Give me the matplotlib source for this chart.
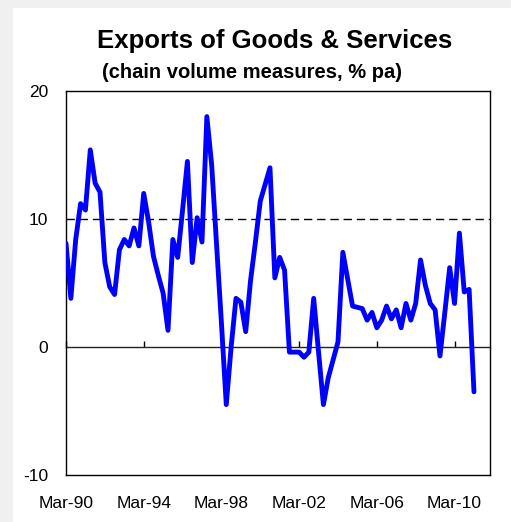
import matplotlib.pyplot as plt
from matplotlib.patches import Rectangle

plt.rcParams['font.family'] = ['Liberation Sans', 'DejaVu Sans']

# quarterly export growth, Mar-90 .. Mar-11 (% pa)
growth = [8.1, 3.8, 8.4, 11.2, 10.7, 15.4, 12.8, 12.1, 6.6, 4.7,
          4.1, 7.6, 8.4, 7.9, 9.3, 7.9, 12.0, 9.8, 7.1, 5.6,
          4.2, 1.3, 8.4, 7.0, 10.7, 14.5, 6.6, 10.1, 8.2, 18.0,
          14.2, 8.0, 1.9, -4.5, 0.0, 3.8, 3.5, 1.2, 5.2, 8.2,
          11.4, 12.7, 14.0, 5.4, 7.0, 6.0, -0.4, -0.4, -0.4, -0.8,
          -0.4, 3.8, -0.4, -4.5, -2.4, -1.0, 0.4, 7.4, 5.3, 3.2,
          3.1, 3.0, 2.1, 2.7, 1.5, 2.1, 3.2, 2.2, 2.9, 1.5,
          3.4, 2.1, 3.4, 6.8, 4.8, 3.4, 2.9, -0.7, 2.7, 6.2,
          3.4, 8.9, 4.3, 4.5, -3.5]
quarters = list(range(len(growth)))

tick_pos = [0, 16, 32, 48, 64, 80]
tick_labels = ['Mar-90', 'Mar-94', 'Mar-98', 'Mar-02', 'Mar-06', 'Mar-10']
y_ticks = [-10, 0, 10, 20]

fig = plt.figure(figsize=(5.11, 5.22), dpi=100)
fig.patch.set_facecolor('#f0f0f0')
# white chart panel
fig.patches.append(Rectangle((13 / 511, 0), 1, 1 - 8 / 522, transform=fig.transFigure,
                             facecolor='white', edgecolor='none', zorder=-5))

ax = fig.add_axes([66 / 511, 1 - 475 / 522, 424 / 511, 384 / 522])
ax.set_zorder(2)
ymin, ymax = -10, 20
ax.set_ylim(ymin, ymax)
ax.set_xlim(0, 87.3)

ax.axhline(10, color='black', lw=1, dashes=(6, 3.5), zorder=1)
ax.plot(quarters, growth, color='#0000ff', lw=3.5, solid_joinstyle='round',
        solid_capstyle='round', zorder=3)

for s in ax.spines.values():
    s.set_linewidth(1)
    s.set_color('black')

ax.set_yticks(y_ticks)
ax.set_yticklabels([str(v) for v in y_ticks])
ax.tick_params(axis='y', length=0, pad=13, labelsize=12.5)
ax.set_xticks(tick_pos)
ax.set_xticklabels(tick_labels)
ax.tick_params(axis='x', length=0, pad=15, labelsize=12.5)

# zero line with category ticks
zero = ax.secondary_xaxis((0 - ymin) / (ymax - ymin))
zero.set_xticks(tick_pos)
zero.set_xticklabels([''] * len(tick_pos))
zero.tick_params(direction='in', length=4, width=1, color='black')
zero.spines['bottom'].set_linewidth(1)
zero.spines['bottom'].set_color('#222222')

fig.text(275 / 511, 1 - 41 / 522, 'Exports of Goods & Services', ha='center', va='center',
         fontsize=18.5, fontweight='bold')
fig.text(252 / 511, 1 - 73 / 522, '(chain volume measures, % pa)', ha='center', va='center',
         fontsize=14.5, fontweight='bold')

plt.savefig('out.png', dpi=100, facecolor=fig.get_facecolor())
